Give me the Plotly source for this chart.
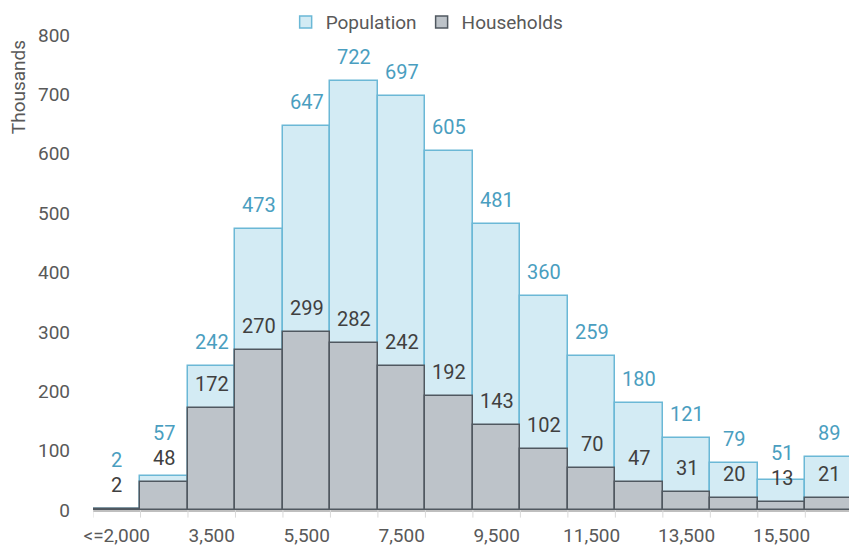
import plotly.graph_objects as go

# Income bands (every second band is labelled on the axis)
categories = ["<=2,000", "2,500", "3,500", "4,500", "5,500", "6,500", "7,500", "8,500",
              "9,500", "10,500", "11,500", "12,500", "13,500", "14,500", "15,500", "16,500"]
tick_labels = ["<=2,000", "", "3,500", "", "5,500", "", "7,500", "",
               "9,500", "", "11,500", "", "13,500", "", "15,500", ""]
population = [2, 57, 242, 473, 647, 722, 697, 605, 481, 360, 259, 180, 121, 79, 51, 89]
households = [2, 48, 172, 270, 299, 282, 242, 192, 143, 102, 70, 47, 31, 20, 13, 21]

FONT = "Roboto"
FS = 19
LFS = 20
W, H = 849, 546
M = dict(l=93, r=0, t=35, b=36)
Y_MAX = 800
px_per_unit = (H - M["t"] - M["b"]) / Y_MAX

x = list(range(len(categories)))

fig = go.Figure()
fig.add_trace(go.Bar(
    x=x, y=population, name="Population", width=1.0,
    marker=dict(color="#D3EBF4", line=dict(color="#6BB8D6", width=1.5)),
))
fig.add_trace(go.Bar(
    x=x, y=households, name="Households", width=1.0,
    marker=dict(color="#BDC3C9", line=dict(color="#505860", width=1.5)),
))

# Value labels: households just above their bar, population above its bar,
# nudged higher where it would collide with the households label.
LABEL_GAP = 24
for i, (p, h) in enumerate(zip(population, households)):
    hh_shift = LABEL_GAP
    fig.add_annotation(x=i, y=h, text=str(h), showarrow=False, yshift=hh_shift,
                       font=dict(family=FONT, size=LFS, color="#404040"))
    pop_px = p * px_per_unit
    hh_label_px = h * px_per_unit + hh_shift
    pop_label_px = max(pop_px + LABEL_GAP, hh_label_px + 25)
    fig.add_annotation(x=i, y=p, text=str(p), showarrow=False,
                       yshift=pop_label_px - pop_px,
                       font=dict(family=FONT, size=LFS, color="#4A9EC0"))

fig.add_annotation(xref="paper", yref="paper", x=-0.099, y=1.0, text="Thousands",
                   textangle=-90, showarrow=False, xanchor="center", yanchor="top",
                   yshift=-3, font=dict(family=FONT, size=19, color="#595959"))

fig.update_layout(
    width=W, height=H, margin=M,
    barmode="overlay", bargap=0,
    plot_bgcolor="white", paper_bgcolor="white",
    font=dict(family=FONT, size=FS, color="#595959"),
    legend=dict(orientation="h", x=0.442, xanchor="center", y=0.987, yanchor="bottom",
                yref="paper", font=dict(family=FONT, size=19, color="#595959"),
                bgcolor="rgba(0,0,0,0)", itemwidth=30, tracegroupgap=0),
    xaxis=dict(tickmode="array", tickvals=x, ticktext=tick_labels,
               range=[-0.5, 15.42], showgrid=False, zeroline=False,
               showline=True, linecolor="#BFBFBF", linewidth=1.5,
               ticks="", ticklabelstandoff=7, automargin=False,
               tickfont=dict(family=FONT, size=FS, color="#595959")),
    yaxis=dict(range=[0, Y_MAX], dtick=100, showgrid=False, zeroline=False,
               showline=False, ticks="", ticklabelstandoff=22, automargin=False,
               tickfont=dict(family=FONT, size=FS, color="#595959")),
)

# Small boundary ticks below the axis between bands
for b in range(len(categories)):
    fig.add_shape(type="line", xref="x", yref="paper", x0=b - 0.5, x1=b - 0.5,
                  y0=0, y1=-0.016, line=dict(color="#D9D9D9", width=1))

fig.write_html("out.html")
